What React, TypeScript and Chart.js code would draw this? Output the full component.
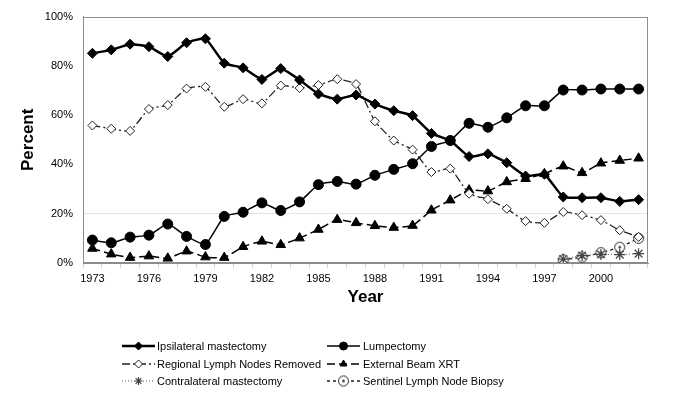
import React, { useEffect, useRef } from 'react';
import { Chart, registerables } from 'chart.js';
import { drawPoint } from 'chart.js/helpers';

Chart.register(...registerables);

const years = ['1973','1974','1975','1976','1977','1978','1979','1980','1981','1982','1983','1984','1985','1986','1987','1988','1989','1990','1991','1992','1993','1994','1995','1996','1997','1998','1999','2000','2001','2002'];
const labeledYears = ['1973','1976','1979','1982','1985','1988','1991','1994','1997','2000'];

const ipsilateral = [85.1, 86.5, 88.8, 87.8, 83.8, 89.4, 91.0, 81.1, 79.2, 74.5, 78.9, 74.3, 68.6, 66.5, 68.2, 64.5, 61.8, 59.8, 52.6, 49.7, 43.2, 44.3, 40.7, 35.3, 36.0, 26.8, 26.5, 26.5, 25.0, 25.7];
const lumpectomy = [9.3, 8.2, 10.5, 11.3, 15.8, 10.8, 7.5, 18.9, 20.6, 24.4, 21.3, 24.8, 31.8, 33.1, 32.0, 35.6, 38.0, 40.3, 47.3, 49.7, 56.7, 55.1, 58.9, 63.8, 63.8, 70.2, 70.2, 70.6, 70.6, 70.6];
const regionalNodes = [55.8, 54.5, 53.6, 62.5, 64.1, 70.8, 71.5, 63.4, 66.5, 64.8, 72.0, 71.0, 72.2, 74.6, 72.6, 57.5, 49.7, 46.0, 36.9, 38.3, 28.1, 25.9, 22.0, 17.0, 16.3, 20.7, 19.4, 17.4, 13.3, 10.6];
const externalBeam = [5.9, 3.6, 2.2, 2.8, 1.9, 4.8, 2.4, 2.2, 6.6, 8.8, 7.4, 10.1, 13.6, 17.6, 16.3, 15.1, 14.4, 15.2, 21.4, 25.5, 29.6, 29.2, 32.9, 34.2, 36.2, 39.3, 36.6, 40.5, 41.6, 42.5];
const contralateral = [null, null, null, null, null, null, null, null, null, null, null, null, null, null, null, null, null, null, null, null, null, null, null, null, null, 1.6, 3.0, 3.5, 3.4, 3.8];
const sentinel = [null, null, null, null, null, null, null, null, null, null, null, null, null, null, null, null, null, null, null, null, null, null, null, null, null, 1.3, 2.4, 4.2, 6.4, 10.0];

const yTicks = [0, 20, 40, 60, 80, 100];

function makeSentinelPoint(): HTMLCanvasElement {
  const c = document.createElement('canvas');
  c.width = 13; c.height = 13;
  const g = c.getContext('2d')!;
  g.beginPath();
  g.arc(6.5, 6.5, 5, 0, Math.PI * 2);
  g.fillStyle = '#fff';
  g.fill();
  g.lineWidth = 1;
  g.strokeStyle = '#222';
  g.stroke();
  g.beginPath();
  g.arc(6.5, 6.5, 1.3, 0, Math.PI * 2);
  g.fillStyle = '#222';
  g.fill();
  return c;
}

export default function App() {
  const ref = useRef<HTMLCanvasElement>(null);
  useEffect(() => {
    const sentinelImg = makeSentinelPoint();
    const legendPos = [
      { lx: 122, tx: 157, y: 346 },
      { lx: 327, tx: 363, y: 346 },
      { lx: 122, tx: 157, y: 364 },
      { lx: 327, tx: 363, y: 364 },
      { lx: 122, tx: 157, y: 381 },
      { lx: 327, tx: 363, y: 381 },
    ];
    const legendOrder = [0, 1, 2, 3, 4, 5];

    const borderPlugin = {
      id: 'plotBorder',
      beforeDatasetsDraw(chart: any) {
        const { ctx, chartArea } = chart;
        ctx.save();
        ctx.strokeStyle = '#8c8c8c';
        ctx.lineWidth = 1;
        ctx.strokeRect(Math.round(chartArea.left) + 0.5, Math.round(chartArea.top) + 0.5, Math.round(chartArea.right - chartArea.left) - 1, Math.round(chartArea.bottom - chartArea.top) - 1);
        ctx.restore();
      },
    };

    const legendPlugin = {
      id: 'customLegend',
      afterDraw(chart: any) {
        const ctx = chart.ctx;
        ctx.save();
        legendOrder.forEach((di, i) => {
          const ds = chart.data.datasets[di];
          const p = legendPos[i];
          ctx.strokeStyle = ds.borderColor;
          ctx.lineWidth = ds.borderWidth;
          ctx.setLineDash(ds.borderDash || []);
          ctx.beginPath();
          ctx.moveTo(p.lx, p.y);
          ctx.lineTo(p.lx + 33, p.y);
          ctx.stroke();
          ctx.setLineDash([]);
          ctx.fillStyle = ds.pointBackgroundColor;
          ctx.strokeStyle = ds.pointBorderColor;
          ctx.lineWidth = ds.pointBorderWidth;
          drawPoint(ctx, { pointStyle: ds.pointStyle, rotation: 0, borderWidth: ds.pointBorderWidth, radius: Math.min(ds.pointRadius, 4) }, p.lx + 16.5, p.y);
          ctx.fillStyle = '#000';
          ctx.font = '11px Arial, "Liberation Sans", sans-serif';
          ctx.textBaseline = 'middle';
          ctx.textAlign = 'left';
          ctx.fillText(ds.label, p.tx, p.y + 0.5);
        });
        ctx.restore();
      },
    };

    const chart = new Chart(ref.current!, {
      type: 'line',
      data: {
        labels: years,
        datasets: [
          {
            label: 'Ipsilateral mastectomy', data: ipsilateral,
            borderColor: '#000', borderWidth: 2.5, tension: 0.15,
            pointStyle: 'rectRot', pointRadius: 5, pointBackgroundColor: '#000', pointBorderColor: '#000', pointBorderWidth: 1,
          },
          {
            label: 'Lumpectomy', data: lumpectomy,
            borderColor: '#000', borderWidth: 1.5, tension: 0.15,
            pointStyle: 'circle', pointRadius: 5, pointBackgroundColor: '#000', pointBorderColor: '#000', pointBorderWidth: 1,
          },
          {
            label: 'Regional Lymph Nodes Removed', data: regionalNodes,
            borderColor: '#222', borderWidth: 1.3, borderDash: [8, 3, 2, 3], tension: 0.15,
            pointStyle: 'rectRot', pointRadius: 4.5, pointBackgroundColor: '#fff', pointBorderColor: '#222', pointBorderWidth: 1,
          },
          {
            label: 'External Beam XRT', data: externalBeam,
            borderColor: '#000', borderWidth: 1.5, borderDash: [8, 4], tension: 0.15,
            pointStyle: 'triangle', pointRadius: 5.5, pointBackgroundColor: '#000', pointBorderColor: '#000', pointBorderWidth: 1,
          },
          {
            label: 'Contralateral mastectomy', data: contralateral,
            borderColor: '#555', borderWidth: 1, borderDash: [1, 2], tension: 0.15,
            pointStyle: 'star', pointRadius: 5.5, pointBackgroundColor: '#444', pointBorderColor: '#444', pointBorderWidth: 1.2,
          },
          {
            label: 'Sentinel Lymph Node Biopsy', data: sentinel,
            borderColor: '#222', borderWidth: 1.3, borderDash: [3, 3], tension: 0.15,
            pointStyle: sentinelImg as any, pointRadius: 5, pointBackgroundColor: '#fff', pointBorderColor: '#222', pointBorderWidth: 1,
          },
        ],
      },
      options: {
        animation: false,
        responsive: true,
        maintainAspectRatio: false,
        layout: { padding: { left: 0, top: 15, right: 37, bottom: 95 } },
        plugins: {
          legend: { display: false },
          tooltip: { enabled: false },
        },
        scales: {
          x: {
            type: 'category',
            offset: true,
            afterFit: (s: any) => { s.height = 50; },
            grid: { display: true, drawOnChartArea: false, drawTicks: true, tickLength: 5, offset: true, color: '#d4d4d4' },
            border: { display: true, color: '#8c8c8c' },
            ticks: {
              autoSkip: false, maxRotation: 0, padding: 4, color: '#000',
              font: { family: 'Arial, "Liberation Sans", sans-serif', size: 11 },
              callback: function (this: any, v: any) {
                const lbl = years[v as number];
                return labeledYears.includes(lbl) ? lbl : '';
              },
            },
            title: {
              display: true, text: 'Year', color: '#000',
              font: { family: 'Arial, "Liberation Sans", sans-serif', size: 17, weight: 'bold' },
              padding: { top: 0, bottom: 5 },
            },
          },
          y: {
            min: 0, max: 100,
            afterFit: (s: any) => { s.width = 83; },
            afterBuildTicks: (s: any) => { s.ticks = yTicks.map((v) => ({ value: v })); },
            grid: {
              drawTicks: false,
              color: (c: any) => (c.tick && c.tick.value === 20 ? '#e4e4e4' : 'rgba(0,0,0,0)'),
            },
            border: { display: true, color: '#8c8c8c' },
            ticks: {
              padding: 10, color: '#000',
              font: { family: 'Arial, "Liberation Sans", sans-serif', size: 11 },
              callback: (v: any) => v + '%',
            },
            title: {
              display: true, text: 'Percent', color: '#000',
              font: { family: 'Arial, "Liberation Sans", sans-serif', size: 17, weight: 'bold' },
              padding: { top: 18, bottom: 0 },
            },
          },
        },
      },
      plugins: [borderPlugin, legendPlugin],
    });
    return () => chart.destroy();
  }, []);

  return (
    <div style={{ position: 'fixed', left: 0, top: 0, width: 685, height: 408, background: '#fff' }}>
      <canvas ref={ref} />
    </div>
  );
}
